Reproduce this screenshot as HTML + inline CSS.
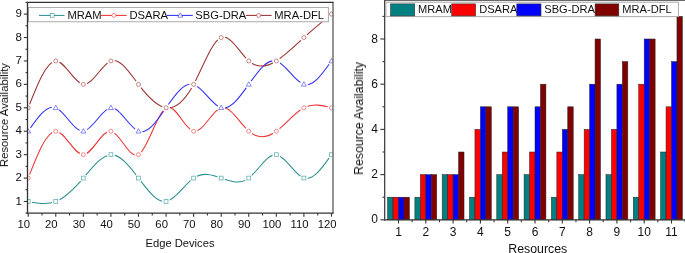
<!DOCTYPE html>
<html><head><meta charset="utf-8"><style>
html,body{margin:0;padding:0;background:#fff;width:685px;height:253px;overflow:hidden}
svg{display:block}
text{will-change:transform}
</style></head><body>
<svg width="685" height="253" viewBox="0 0 685 253">
<defs><clipPath id="cl"><rect x="27.50" y="2.40" width="305.10" height="210.80"/></clipPath></defs>
<g clip-path="url(#cl)">
<path d="M28.20 201.50C37.39 203.32 46.58 205.13 55.77 201.50C64.96 197.87 74.15 188.79 83.34 178.07C92.53 167.36 101.72 155.01 110.91 154.65C120.10 154.29 129.29 165.91 138.48 178.07C147.67 190.24 156.86 202.96 166.05 201.50C175.24 200.04 184.43 184.39 193.62 178.07C202.81 171.76 212.00 174.76 221.19 178.07C230.38 181.39 239.57 185.00 248.76 178.07C257.95 171.15 267.14 153.69 276.33 154.65C285.52 155.61 294.71 175.00 303.90 178.07C313.09 181.15 322.28 167.90 331.47 154.65" fill="none" stroke="#2a9090" stroke-width="1.05"/>
<circle cx="28.20" cy="201.50" r="3.9" fill="#fff"/><rect x="26.30" y="199.60" width="3.8" height="3.8" fill="#fff" stroke="#2a9090" stroke-width="0.75" stroke-opacity="0.75"/>
<circle cx="55.77" cy="201.50" r="3.9" fill="#fff"/><rect x="53.87" y="199.60" width="3.8" height="3.8" fill="#fff" stroke="#2a9090" stroke-width="0.75" stroke-opacity="0.75"/>
<circle cx="83.34" cy="178.07" r="3.9" fill="#fff"/><rect x="81.44" y="176.17" width="3.8" height="3.8" fill="#fff" stroke="#2a9090" stroke-width="0.75" stroke-opacity="0.75"/>
<circle cx="110.91" cy="154.65" r="3.9" fill="#fff"/><rect x="109.01" y="152.75" width="3.8" height="3.8" fill="#fff" stroke="#2a9090" stroke-width="0.75" stroke-opacity="0.75"/>
<circle cx="138.48" cy="178.07" r="3.9" fill="#fff"/><rect x="136.58" y="176.17" width="3.8" height="3.8" fill="#fff" stroke="#2a9090" stroke-width="0.75" stroke-opacity="0.75"/>
<circle cx="166.05" cy="201.50" r="3.9" fill="#fff"/><rect x="164.15" y="199.60" width="3.8" height="3.8" fill="#fff" stroke="#2a9090" stroke-width="0.75" stroke-opacity="0.75"/>
<circle cx="193.62" cy="178.07" r="3.9" fill="#fff"/><rect x="191.72" y="176.17" width="3.8" height="3.8" fill="#fff" stroke="#2a9090" stroke-width="0.75" stroke-opacity="0.75"/>
<circle cx="221.19" cy="178.07" r="3.9" fill="#fff"/><rect x="219.29" y="176.17" width="3.8" height="3.8" fill="#fff" stroke="#2a9090" stroke-width="0.75" stroke-opacity="0.75"/>
<circle cx="248.76" cy="178.07" r="3.9" fill="#fff"/><rect x="246.86" y="176.17" width="3.8" height="3.8" fill="#fff" stroke="#2a9090" stroke-width="0.75" stroke-opacity="0.75"/>
<circle cx="276.33" cy="154.65" r="3.9" fill="#fff"/><rect x="274.43" y="152.75" width="3.8" height="3.8" fill="#fff" stroke="#2a9090" stroke-width="0.75" stroke-opacity="0.75"/>
<circle cx="303.90" cy="178.07" r="3.9" fill="#fff"/><rect x="302.00" y="176.17" width="3.8" height="3.8" fill="#fff" stroke="#2a9090" stroke-width="0.75" stroke-opacity="0.75"/>
<circle cx="331.47" cy="154.65" r="3.9" fill="#fff"/><rect x="329.57" y="152.75" width="3.8" height="3.8" fill="#fff" stroke="#2a9090" stroke-width="0.75" stroke-opacity="0.75"/>
<path d="M28.20 178.07C37.39 154.60 46.58 131.12 55.77 131.22C64.96 131.33 74.15 155.00 83.34 154.65C92.53 154.30 101.72 129.91 110.91 131.22C120.10 132.54 129.29 159.56 138.48 154.65C147.67 149.74 156.86 112.91 166.05 107.80C175.24 102.69 184.43 129.32 193.62 131.22C202.81 133.13 212.00 110.32 221.19 107.80C230.38 105.28 239.57 123.06 248.76 131.22C257.95 139.39 267.14 137.93 276.33 131.22C285.52 124.52 294.71 112.58 303.90 107.80C313.09 103.02 322.28 105.41 331.47 107.80" fill="none" stroke="#ee3333" stroke-width="1.05"/>
<circle cx="28.20" cy="178.07" r="3.9" fill="#fff"/><circle cx="28.20" cy="178.07" r="2.0" fill="#fff" stroke="#ee3333" stroke-width="0.75" stroke-opacity="0.75"/>
<circle cx="55.77" cy="131.22" r="3.9" fill="#fff"/><circle cx="55.77" cy="131.22" r="2.0" fill="#fff" stroke="#ee3333" stroke-width="0.75" stroke-opacity="0.75"/>
<circle cx="83.34" cy="154.65" r="3.9" fill="#fff"/><circle cx="83.34" cy="154.65" r="2.0" fill="#fff" stroke="#ee3333" stroke-width="0.75" stroke-opacity="0.75"/>
<circle cx="110.91" cy="131.22" r="3.9" fill="#fff"/><circle cx="110.91" cy="131.22" r="2.0" fill="#fff" stroke="#ee3333" stroke-width="0.75" stroke-opacity="0.75"/>
<circle cx="138.48" cy="154.65" r="3.9" fill="#fff"/><circle cx="138.48" cy="154.65" r="2.0" fill="#fff" stroke="#ee3333" stroke-width="0.75" stroke-opacity="0.75"/>
<circle cx="166.05" cy="107.80" r="3.9" fill="#fff"/><circle cx="166.05" cy="107.80" r="2.0" fill="#fff" stroke="#ee3333" stroke-width="0.75" stroke-opacity="0.75"/>
<circle cx="193.62" cy="131.22" r="3.9" fill="#fff"/><circle cx="193.62" cy="131.22" r="2.0" fill="#fff" stroke="#ee3333" stroke-width="0.75" stroke-opacity="0.75"/>
<circle cx="221.19" cy="107.80" r="3.9" fill="#fff"/><circle cx="221.19" cy="107.80" r="2.0" fill="#fff" stroke="#ee3333" stroke-width="0.75" stroke-opacity="0.75"/>
<circle cx="248.76" cy="131.22" r="3.9" fill="#fff"/><circle cx="248.76" cy="131.22" r="2.0" fill="#fff" stroke="#ee3333" stroke-width="0.75" stroke-opacity="0.75"/>
<circle cx="276.33" cy="131.22" r="3.9" fill="#fff"/><circle cx="276.33" cy="131.22" r="2.0" fill="#fff" stroke="#ee3333" stroke-width="0.75" stroke-opacity="0.75"/>
<circle cx="303.90" cy="107.80" r="3.9" fill="#fff"/><circle cx="303.90" cy="107.80" r="2.0" fill="#fff" stroke="#ee3333" stroke-width="0.75" stroke-opacity="0.75"/>
<circle cx="331.47" cy="107.80" r="3.9" fill="#fff"/><circle cx="331.47" cy="107.80" r="2.0" fill="#fff" stroke="#ee3333" stroke-width="0.75" stroke-opacity="0.75"/>
<path d="M28.20 131.22C37.39 117.74 46.58 104.25 55.77 107.80C64.96 111.35 74.15 131.94 83.34 131.22C92.53 130.51 101.72 108.49 110.91 107.80C120.10 107.11 129.29 127.74 138.48 131.22C147.67 134.71 156.86 121.05 166.05 107.80C175.24 94.55 184.43 81.71 193.62 84.38C202.81 87.04 212.00 105.21 221.19 107.80C230.38 110.39 239.57 97.38 248.76 84.38C257.95 71.37 267.14 58.35 276.33 60.95C285.52 63.55 294.71 81.77 303.90 84.38C313.09 86.98 322.28 73.96 331.47 60.95" fill="none" stroke="#2e2ef5" stroke-width="1.05"/>
<circle cx="28.20" cy="131.22" r="3.9" fill="#fff"/><path d="M28.20 128.62L30.70 133.03L25.70 133.03Z" fill="#fff" stroke="#2e2ef5" stroke-width="0.75" stroke-opacity="0.75"/>
<circle cx="55.77" cy="107.80" r="3.9" fill="#fff"/><path d="M55.77 105.20L58.27 109.60L53.27 109.60Z" fill="#fff" stroke="#2e2ef5" stroke-width="0.75" stroke-opacity="0.75"/>
<circle cx="83.34" cy="131.22" r="3.9" fill="#fff"/><path d="M83.34 128.62L85.84 133.03L80.84 133.03Z" fill="#fff" stroke="#2e2ef5" stroke-width="0.75" stroke-opacity="0.75"/>
<circle cx="110.91" cy="107.80" r="3.9" fill="#fff"/><path d="M110.91 105.20L113.41 109.60L108.41 109.60Z" fill="#fff" stroke="#2e2ef5" stroke-width="0.75" stroke-opacity="0.75"/>
<circle cx="138.48" cy="131.22" r="3.9" fill="#fff"/><path d="M138.48 128.62L140.98 133.03L135.98 133.03Z" fill="#fff" stroke="#2e2ef5" stroke-width="0.75" stroke-opacity="0.75"/>
<circle cx="166.05" cy="107.80" r="3.9" fill="#fff"/><path d="M166.05 105.20L168.55 109.60L163.55 109.60Z" fill="#fff" stroke="#2e2ef5" stroke-width="0.75" stroke-opacity="0.75"/>
<circle cx="193.62" cy="84.38" r="3.9" fill="#fff"/><path d="M193.62 81.78L196.12 86.17L191.12 86.17Z" fill="#fff" stroke="#2e2ef5" stroke-width="0.75" stroke-opacity="0.75"/>
<circle cx="221.19" cy="107.80" r="3.9" fill="#fff"/><path d="M221.19 105.20L223.69 109.60L218.69 109.60Z" fill="#fff" stroke="#2e2ef5" stroke-width="0.75" stroke-opacity="0.75"/>
<circle cx="248.76" cy="84.38" r="3.9" fill="#fff"/><path d="M248.76 81.78L251.26 86.17L246.26 86.17Z" fill="#fff" stroke="#2e2ef5" stroke-width="0.75" stroke-opacity="0.75"/>
<circle cx="276.33" cy="60.95" r="3.9" fill="#fff"/><path d="M276.33 58.35L278.83 62.75L273.83 62.75Z" fill="#fff" stroke="#2e2ef5" stroke-width="0.75" stroke-opacity="0.75"/>
<circle cx="303.90" cy="84.38" r="3.9" fill="#fff"/><path d="M303.90 81.78L306.40 86.17L301.40 86.17Z" fill="#fff" stroke="#2e2ef5" stroke-width="0.75" stroke-opacity="0.75"/>
<circle cx="331.47" cy="60.95" r="3.9" fill="#fff"/><path d="M331.47 58.35L333.97 62.75L328.97 62.75Z" fill="#fff" stroke="#2e2ef5" stroke-width="0.75" stroke-opacity="0.75"/>
<path d="M28.20 107.80C37.39 84.50 46.58 61.20 55.77 60.95C64.96 60.70 74.15 83.49 83.34 84.38C92.53 85.26 101.72 64.23 110.91 60.95C120.10 57.67 129.29 72.14 138.48 84.38C147.67 96.61 156.86 106.62 166.05 107.80C175.24 108.98 184.43 101.32 193.62 84.38C202.81 67.43 212.00 41.20 221.19 37.52C230.38 33.85 239.57 52.72 248.76 60.95C257.95 69.18 267.14 66.77 276.33 60.95C285.52 55.13 294.71 45.90 303.90 37.52C313.09 29.15 322.28 21.62 331.47 14.10" fill="none" stroke="#9a3030" stroke-width="1.05"/>
<circle cx="28.20" cy="107.80" r="3.9" fill="#fff"/><circle cx="28.20" cy="107.80" r="2.0" fill="#fff" stroke="#9a3030" stroke-width="0.75" stroke-opacity="0.75"/>
<circle cx="55.77" cy="60.95" r="3.9" fill="#fff"/><circle cx="55.77" cy="60.95" r="2.0" fill="#fff" stroke="#9a3030" stroke-width="0.75" stroke-opacity="0.75"/>
<circle cx="83.34" cy="84.38" r="3.9" fill="#fff"/><circle cx="83.34" cy="84.38" r="2.0" fill="#fff" stroke="#9a3030" stroke-width="0.75" stroke-opacity="0.75"/>
<circle cx="110.91" cy="60.95" r="3.9" fill="#fff"/><circle cx="110.91" cy="60.95" r="2.0" fill="#fff" stroke="#9a3030" stroke-width="0.75" stroke-opacity="0.75"/>
<circle cx="138.48" cy="84.38" r="3.9" fill="#fff"/><circle cx="138.48" cy="84.38" r="2.0" fill="#fff" stroke="#9a3030" stroke-width="0.75" stroke-opacity="0.75"/>
<circle cx="166.05" cy="107.80" r="3.9" fill="#fff"/><circle cx="166.05" cy="107.80" r="2.0" fill="#fff" stroke="#9a3030" stroke-width="0.75" stroke-opacity="0.75"/>
<circle cx="193.62" cy="84.38" r="3.9" fill="#fff"/><circle cx="193.62" cy="84.38" r="2.0" fill="#fff" stroke="#9a3030" stroke-width="0.75" stroke-opacity="0.75"/>
<circle cx="221.19" cy="37.52" r="3.9" fill="#fff"/><circle cx="221.19" cy="37.52" r="2.0" fill="#fff" stroke="#9a3030" stroke-width="0.75" stroke-opacity="0.75"/>
<circle cx="248.76" cy="60.95" r="3.9" fill="#fff"/><circle cx="248.76" cy="60.95" r="2.0" fill="#fff" stroke="#9a3030" stroke-width="0.75" stroke-opacity="0.75"/>
<circle cx="276.33" cy="60.95" r="3.9" fill="#fff"/><circle cx="276.33" cy="60.95" r="2.0" fill="#fff" stroke="#9a3030" stroke-width="0.75" stroke-opacity="0.75"/>
<circle cx="303.90" cy="37.52" r="3.9" fill="#fff"/><circle cx="303.90" cy="37.52" r="2.0" fill="#fff" stroke="#9a3030" stroke-width="0.75" stroke-opacity="0.75"/>
<circle cx="331.47" cy="14.10" r="3.9" fill="#fff"/><circle cx="331.47" cy="14.10" r="2.0" fill="#fff" stroke="#9a3030" stroke-width="0.75" stroke-opacity="0.75"/>
</g>
<rect x="28.5" y="7.45" width="299.9" height="14.3" fill="#fff" stroke="#aaa" stroke-width="1"/>
<line x1="39.0" y1="15.4" x2="64.5" y2="15.4" stroke="#2a9090" stroke-width="1.05"/>
<rect x="50.30" y="13.50" width="3.8" height="3.8" fill="#fff" stroke="#2a9090" stroke-width="0.75" stroke-opacity="0.75"/>
<text x="67.4" y="19.1" font-size="11.2" font-family="Liberation Sans, sans-serif" fill="#111">MRAM</text>
<line x1="100.8" y1="15.4" x2="126.6" y2="15.4" stroke="#ee3333" stroke-width="1.05"/>
<circle cx="113.90" cy="15.40" r="2.0" fill="#fff" stroke="#ee3333" stroke-width="0.75" stroke-opacity="0.75"/>
<text x="129.4" y="19.1" font-size="11.2" font-family="Liberation Sans, sans-serif" fill="#111">DSARA</text>
<line x1="167.0" y1="15.4" x2="192.8" y2="15.4" stroke="#2e2ef5" stroke-width="1.05"/>
<path d="M180.30 12.80L182.80 17.20L177.80 17.20Z" fill="#fff" stroke="#2e2ef5" stroke-width="0.75" stroke-opacity="0.75"/>
<text x="195.3" y="19.1" font-size="11.2" font-family="Liberation Sans, sans-serif" fill="#111">SBG-DRA</text>
<line x1="245.9" y1="15.4" x2="271.6" y2="15.4" stroke="#9a3030" stroke-width="1.05"/>
<circle cx="258.70" cy="15.40" r="2.0" fill="#fff" stroke="#9a3030" stroke-width="0.75" stroke-opacity="0.75"/>
<text x="274.3" y="19.1" font-size="11.2" font-family="Liberation Sans, sans-serif" fill="#111">MRA-DFL</text>
<path d="M26.85 2.40H333.5" fill="none" stroke="#333" stroke-width="1.3"/>
<path d="M26.85 213.20H333.5" fill="none" stroke="#333" stroke-width="1.3"/>
<path d="M27.50 2.40V213.20" fill="none" stroke="#333" stroke-width="1.3"/>
<path d="M333 1.80V213.80" fill="none" stroke="#444" stroke-width="1.15"/>
<line x1="23.80" y1="201.50" x2="27.50" y2="201.50" stroke="#333" stroke-width="1.1"/>
<text x="22" y="204.50" font-size="11.5" font-family="Liberation Sans, sans-serif" fill="#111" text-anchor="end">1</text>
<line x1="23.80" y1="178.07" x2="27.50" y2="178.07" stroke="#333" stroke-width="1.1"/>
<text x="22" y="181.07" font-size="11.5" font-family="Liberation Sans, sans-serif" fill="#111" text-anchor="end">2</text>
<line x1="23.80" y1="154.65" x2="27.50" y2="154.65" stroke="#333" stroke-width="1.1"/>
<text x="22" y="157.65" font-size="11.5" font-family="Liberation Sans, sans-serif" fill="#111" text-anchor="end">3</text>
<line x1="23.80" y1="131.22" x2="27.50" y2="131.22" stroke="#333" stroke-width="1.1"/>
<text x="22" y="134.22" font-size="11.5" font-family="Liberation Sans, sans-serif" fill="#111" text-anchor="end">4</text>
<line x1="23.80" y1="107.80" x2="27.50" y2="107.80" stroke="#333" stroke-width="1.1"/>
<text x="22" y="110.80" font-size="11.5" font-family="Liberation Sans, sans-serif" fill="#111" text-anchor="end">5</text>
<line x1="23.80" y1="84.38" x2="27.50" y2="84.38" stroke="#333" stroke-width="1.1"/>
<text x="22" y="87.38" font-size="11.5" font-family="Liberation Sans, sans-serif" fill="#111" text-anchor="end">6</text>
<line x1="23.80" y1="60.95" x2="27.50" y2="60.95" stroke="#333" stroke-width="1.1"/>
<text x="22" y="63.95" font-size="11.5" font-family="Liberation Sans, sans-serif" fill="#111" text-anchor="end">7</text>
<line x1="23.80" y1="37.52" x2="27.50" y2="37.52" stroke="#333" stroke-width="1.1"/>
<text x="22" y="40.52" font-size="11.5" font-family="Liberation Sans, sans-serif" fill="#111" text-anchor="end">8</text>
<line x1="23.80" y1="14.10" x2="27.50" y2="14.10" stroke="#333" stroke-width="1.1"/>
<text x="22" y="17.10" font-size="11.5" font-family="Liberation Sans, sans-serif" fill="#111" text-anchor="end">9</text>
<line x1="25.50" y1="213.21" x2="27.50" y2="213.21" stroke="#333" stroke-width="1.1"/>
<line x1="25.50" y1="189.79" x2="27.50" y2="189.79" stroke="#333" stroke-width="1.1"/>
<line x1="25.50" y1="166.36" x2="27.50" y2="166.36" stroke="#333" stroke-width="1.1"/>
<line x1="25.50" y1="142.94" x2="27.50" y2="142.94" stroke="#333" stroke-width="1.1"/>
<line x1="25.50" y1="119.51" x2="27.50" y2="119.51" stroke="#333" stroke-width="1.1"/>
<line x1="25.50" y1="96.09" x2="27.50" y2="96.09" stroke="#333" stroke-width="1.1"/>
<line x1="25.50" y1="72.66" x2="27.50" y2="72.66" stroke="#333" stroke-width="1.1"/>
<line x1="25.50" y1="49.24" x2="27.50" y2="49.24" stroke="#333" stroke-width="1.1"/>
<line x1="25.50" y1="25.81" x2="27.50" y2="25.81" stroke="#333" stroke-width="1.1"/>
<line x1="25.50" y1="2.39" x2="27.50" y2="2.39" stroke="#333" stroke-width="1.1"/>
<line x1="28.20" y1="213.20" x2="28.20" y2="216.70" stroke="#333" stroke-width="1.1"/>
<text x="23.80" y="228.2" font-size="11.3" font-family="Liberation Sans, sans-serif" fill="#111" text-anchor="middle">10</text>
<line x1="55.77" y1="213.20" x2="55.77" y2="216.70" stroke="#333" stroke-width="1.1"/>
<text x="51.37" y="228.2" font-size="11.3" font-family="Liberation Sans, sans-serif" fill="#111" text-anchor="middle">20</text>
<line x1="83.34" y1="213.20" x2="83.34" y2="216.70" stroke="#333" stroke-width="1.1"/>
<text x="78.94" y="228.2" font-size="11.3" font-family="Liberation Sans, sans-serif" fill="#111" text-anchor="middle">30</text>
<line x1="110.91" y1="213.20" x2="110.91" y2="216.70" stroke="#333" stroke-width="1.1"/>
<text x="106.51" y="228.2" font-size="11.3" font-family="Liberation Sans, sans-serif" fill="#111" text-anchor="middle">40</text>
<line x1="138.48" y1="213.20" x2="138.48" y2="216.70" stroke="#333" stroke-width="1.1"/>
<text x="134.08" y="228.2" font-size="11.3" font-family="Liberation Sans, sans-serif" fill="#111" text-anchor="middle">50</text>
<line x1="166.05" y1="213.20" x2="166.05" y2="216.70" stroke="#333" stroke-width="1.1"/>
<text x="161.65" y="228.2" font-size="11.3" font-family="Liberation Sans, sans-serif" fill="#111" text-anchor="middle">60</text>
<line x1="193.62" y1="213.20" x2="193.62" y2="216.70" stroke="#333" stroke-width="1.1"/>
<text x="189.22" y="228.2" font-size="11.3" font-family="Liberation Sans, sans-serif" fill="#111" text-anchor="middle">70</text>
<line x1="221.19" y1="213.20" x2="221.19" y2="216.70" stroke="#333" stroke-width="1.1"/>
<text x="216.79" y="228.2" font-size="11.3" font-family="Liberation Sans, sans-serif" fill="#111" text-anchor="middle">80</text>
<line x1="248.76" y1="213.20" x2="248.76" y2="216.70" stroke="#333" stroke-width="1.1"/>
<text x="244.36" y="228.2" font-size="11.3" font-family="Liberation Sans, sans-serif" fill="#111" text-anchor="middle">90</text>
<line x1="276.33" y1="213.20" x2="276.33" y2="216.70" stroke="#333" stroke-width="1.1"/>
<text x="271.93" y="228.2" font-size="11.3" font-family="Liberation Sans, sans-serif" fill="#111" text-anchor="middle">100</text>
<line x1="303.90" y1="213.20" x2="303.90" y2="216.70" stroke="#333" stroke-width="1.1"/>
<text x="299.50" y="228.2" font-size="11.3" font-family="Liberation Sans, sans-serif" fill="#111" text-anchor="middle">110</text>
<line x1="331.47" y1="213.20" x2="331.47" y2="216.70" stroke="#333" stroke-width="1.1"/>
<text x="327.07" y="228.2" font-size="11.3" font-family="Liberation Sans, sans-serif" fill="#111" text-anchor="middle">120</text>
<line x1="41.98" y1="213.20" x2="41.98" y2="215.50" stroke="#333" stroke-width="1.1"/>
<line x1="69.56" y1="213.20" x2="69.56" y2="215.50" stroke="#333" stroke-width="1.1"/>
<line x1="97.12" y1="213.20" x2="97.12" y2="215.50" stroke="#333" stroke-width="1.1"/>
<line x1="124.70" y1="213.20" x2="124.70" y2="215.50" stroke="#333" stroke-width="1.1"/>
<line x1="152.27" y1="213.20" x2="152.27" y2="215.50" stroke="#333" stroke-width="1.1"/>
<line x1="179.84" y1="213.20" x2="179.84" y2="215.50" stroke="#333" stroke-width="1.1"/>
<line x1="207.41" y1="213.20" x2="207.41" y2="215.50" stroke="#333" stroke-width="1.1"/>
<line x1="234.97" y1="213.20" x2="234.97" y2="215.50" stroke="#333" stroke-width="1.1"/>
<line x1="262.55" y1="213.20" x2="262.55" y2="215.50" stroke="#333" stroke-width="1.1"/>
<line x1="290.12" y1="213.20" x2="290.12" y2="215.50" stroke="#333" stroke-width="1.1"/>
<line x1="317.69" y1="213.20" x2="317.69" y2="215.50" stroke="#333" stroke-width="1.1"/>
<text x="180" y="247" font-size="11.2" font-family="Liberation Sans, sans-serif" fill="#111" text-anchor="middle">Edge Devices</text>
<text transform="translate(8.0,115.1) rotate(-90)" font-size="11.3" font-family="Liberation Sans, sans-serif" fill="#111" text-anchor="middle">Resource Availability</text>
<rect x="387.58" y="197.20" width="5.46" height="22.60" fill="#008080" stroke="#222" stroke-width="0.5"/>
<rect x="393.04" y="197.20" width="5.46" height="22.60" fill="#ff0000" stroke="#222" stroke-width="0.5"/>
<rect x="398.50" y="197.20" width="5.46" height="22.60" fill="#0000ff" stroke="#222" stroke-width="0.5"/>
<rect x="403.96" y="197.20" width="5.46" height="22.60" fill="#800000" stroke="#222" stroke-width="0.5"/>
<rect x="414.88" y="197.20" width="5.46" height="22.60" fill="#008080" stroke="#222" stroke-width="0.5"/>
<rect x="420.34" y="174.60" width="5.46" height="45.20" fill="#ff0000" stroke="#222" stroke-width="0.5"/>
<rect x="425.80" y="174.60" width="5.46" height="45.20" fill="#0000ff" stroke="#222" stroke-width="0.5"/>
<rect x="431.26" y="174.60" width="5.46" height="45.20" fill="#800000" stroke="#222" stroke-width="0.5"/>
<rect x="442.18" y="174.60" width="5.46" height="45.20" fill="#008080" stroke="#222" stroke-width="0.5"/>
<rect x="447.64" y="174.60" width="5.46" height="45.20" fill="#ff0000" stroke="#222" stroke-width="0.5"/>
<rect x="453.10" y="174.60" width="5.46" height="45.20" fill="#0000ff" stroke="#222" stroke-width="0.5"/>
<rect x="458.56" y="152.00" width="5.46" height="67.80" fill="#800000" stroke="#222" stroke-width="0.5"/>
<rect x="469.48" y="197.20" width="5.46" height="22.60" fill="#008080" stroke="#222" stroke-width="0.5"/>
<rect x="474.94" y="129.40" width="5.46" height="90.40" fill="#ff0000" stroke="#222" stroke-width="0.5"/>
<rect x="480.40" y="106.80" width="5.46" height="113.00" fill="#0000ff" stroke="#222" stroke-width="0.5"/>
<rect x="485.86" y="106.80" width="5.46" height="113.00" fill="#800000" stroke="#222" stroke-width="0.5"/>
<rect x="496.78" y="174.60" width="5.46" height="45.20" fill="#008080" stroke="#222" stroke-width="0.5"/>
<rect x="502.24" y="152.00" width="5.46" height="67.80" fill="#ff0000" stroke="#222" stroke-width="0.5"/>
<rect x="507.70" y="106.80" width="5.46" height="113.00" fill="#0000ff" stroke="#222" stroke-width="0.5"/>
<rect x="513.16" y="106.80" width="5.46" height="113.00" fill="#800000" stroke="#222" stroke-width="0.5"/>
<rect x="524.08" y="174.60" width="5.46" height="45.20" fill="#008080" stroke="#222" stroke-width="0.5"/>
<rect x="529.54" y="152.00" width="5.46" height="67.80" fill="#ff0000" stroke="#222" stroke-width="0.5"/>
<rect x="535.00" y="106.80" width="5.46" height="113.00" fill="#0000ff" stroke="#222" stroke-width="0.5"/>
<rect x="540.46" y="84.20" width="5.46" height="135.60" fill="#800000" stroke="#222" stroke-width="0.5"/>
<rect x="551.38" y="197.20" width="5.46" height="22.60" fill="#008080" stroke="#222" stroke-width="0.5"/>
<rect x="556.84" y="152.00" width="5.46" height="67.80" fill="#ff0000" stroke="#222" stroke-width="0.5"/>
<rect x="562.30" y="129.40" width="5.46" height="90.40" fill="#0000ff" stroke="#222" stroke-width="0.5"/>
<rect x="567.76" y="106.80" width="5.46" height="113.00" fill="#800000" stroke="#222" stroke-width="0.5"/>
<rect x="578.68" y="174.60" width="5.46" height="45.20" fill="#008080" stroke="#222" stroke-width="0.5"/>
<rect x="584.14" y="129.40" width="5.46" height="90.40" fill="#ff0000" stroke="#222" stroke-width="0.5"/>
<rect x="589.60" y="84.20" width="5.46" height="135.60" fill="#0000ff" stroke="#222" stroke-width="0.5"/>
<rect x="595.06" y="39.00" width="5.46" height="180.80" fill="#800000" stroke="#222" stroke-width="0.5"/>
<rect x="605.98" y="174.60" width="5.46" height="45.20" fill="#008080" stroke="#222" stroke-width="0.5"/>
<rect x="611.44" y="129.40" width="5.46" height="90.40" fill="#ff0000" stroke="#222" stroke-width="0.5"/>
<rect x="616.90" y="84.20" width="5.46" height="135.60" fill="#0000ff" stroke="#222" stroke-width="0.5"/>
<rect x="622.36" y="61.60" width="5.46" height="158.20" fill="#800000" stroke="#222" stroke-width="0.5"/>
<rect x="633.28" y="197.20" width="5.46" height="22.60" fill="#008080" stroke="#222" stroke-width="0.5"/>
<rect x="638.74" y="84.20" width="5.46" height="135.60" fill="#ff0000" stroke="#222" stroke-width="0.5"/>
<rect x="644.20" y="39.00" width="5.46" height="180.80" fill="#0000ff" stroke="#222" stroke-width="0.5"/>
<rect x="649.66" y="39.00" width="5.46" height="180.80" fill="#800000" stroke="#222" stroke-width="0.5"/>
<rect x="660.58" y="152.00" width="5.46" height="67.80" fill="#008080" stroke="#222" stroke-width="0.5"/>
<rect x="666.04" y="106.80" width="5.46" height="113.00" fill="#ff0000" stroke="#222" stroke-width="0.5"/>
<rect x="671.50" y="61.60" width="5.46" height="158.20" fill="#0000ff" stroke="#222" stroke-width="0.5"/>
<rect x="676.96" y="16.40" width="5.46" height="203.40" fill="#800000" stroke="#222" stroke-width="0.5"/>
<line x1="384.70" y1="0" x2="384.70" y2="220.40" stroke="#333" stroke-width="1.2"/>
<line x1="384.10" y1="219.80" x2="686" y2="219.80" stroke="#333" stroke-width="1.3"/>
<line x1="384.70" y1="0.3" x2="686" y2="0.3" stroke="#444" stroke-width="1"/>
<line x1="380.40" y1="219.80" x2="384.70" y2="219.80" stroke="#333" stroke-width="1.1"/>
<text x="378" y="223.30" font-size="12" font-family="Liberation Sans, sans-serif" fill="#111" text-anchor="end">0</text>
<line x1="382.50" y1="197.20" x2="384.70" y2="197.20" stroke="#333" stroke-width="1.1"/>
<line x1="380.40" y1="174.60" x2="384.70" y2="174.60" stroke="#333" stroke-width="1.1"/>
<text x="378" y="178.10" font-size="12" font-family="Liberation Sans, sans-serif" fill="#111" text-anchor="end">2</text>
<line x1="382.50" y1="152.00" x2="384.70" y2="152.00" stroke="#333" stroke-width="1.1"/>
<line x1="380.40" y1="129.40" x2="384.70" y2="129.40" stroke="#333" stroke-width="1.1"/>
<text x="378" y="132.90" font-size="12" font-family="Liberation Sans, sans-serif" fill="#111" text-anchor="end">4</text>
<line x1="382.50" y1="106.80" x2="384.70" y2="106.80" stroke="#333" stroke-width="1.1"/>
<line x1="380.40" y1="84.20" x2="384.70" y2="84.20" stroke="#333" stroke-width="1.1"/>
<text x="378" y="87.70" font-size="12" font-family="Liberation Sans, sans-serif" fill="#111" text-anchor="end">6</text>
<line x1="382.50" y1="61.60" x2="384.70" y2="61.60" stroke="#333" stroke-width="1.1"/>
<line x1="380.40" y1="39.00" x2="384.70" y2="39.00" stroke="#333" stroke-width="1.1"/>
<text x="378" y="42.50" font-size="12" font-family="Liberation Sans, sans-serif" fill="#111" text-anchor="end">8</text>
<line x1="382.50" y1="16.40" x2="384.70" y2="16.40" stroke="#333" stroke-width="1.1"/>
<line x1="398.50" y1="219.80" x2="398.50" y2="223.50" stroke="#333" stroke-width="1.1"/>
<text x="398.50" y="235.6" font-size="12" font-family="Liberation Sans, sans-serif" fill="#111" text-anchor="middle">1</text>
<line x1="412.15" y1="219.80" x2="412.15" y2="222.20" stroke="#333" stroke-width="1.1"/>
<line x1="425.80" y1="219.80" x2="425.80" y2="223.50" stroke="#333" stroke-width="1.1"/>
<text x="425.80" y="235.6" font-size="12" font-family="Liberation Sans, sans-serif" fill="#111" text-anchor="middle">2</text>
<line x1="439.45" y1="219.80" x2="439.45" y2="222.20" stroke="#333" stroke-width="1.1"/>
<line x1="453.10" y1="219.80" x2="453.10" y2="223.50" stroke="#333" stroke-width="1.1"/>
<text x="453.10" y="235.6" font-size="12" font-family="Liberation Sans, sans-serif" fill="#111" text-anchor="middle">3</text>
<line x1="466.75" y1="219.80" x2="466.75" y2="222.20" stroke="#333" stroke-width="1.1"/>
<line x1="480.40" y1="219.80" x2="480.40" y2="223.50" stroke="#333" stroke-width="1.1"/>
<text x="480.40" y="235.6" font-size="12" font-family="Liberation Sans, sans-serif" fill="#111" text-anchor="middle">4</text>
<line x1="494.05" y1="219.80" x2="494.05" y2="222.20" stroke="#333" stroke-width="1.1"/>
<line x1="507.70" y1="219.80" x2="507.70" y2="223.50" stroke="#333" stroke-width="1.1"/>
<text x="507.70" y="235.6" font-size="12" font-family="Liberation Sans, sans-serif" fill="#111" text-anchor="middle">5</text>
<line x1="521.35" y1="219.80" x2="521.35" y2="222.20" stroke="#333" stroke-width="1.1"/>
<line x1="535.00" y1="219.80" x2="535.00" y2="223.50" stroke="#333" stroke-width="1.1"/>
<text x="535.00" y="235.6" font-size="12" font-family="Liberation Sans, sans-serif" fill="#111" text-anchor="middle">6</text>
<line x1="548.65" y1="219.80" x2="548.65" y2="222.20" stroke="#333" stroke-width="1.1"/>
<line x1="562.30" y1="219.80" x2="562.30" y2="223.50" stroke="#333" stroke-width="1.1"/>
<text x="562.30" y="235.6" font-size="12" font-family="Liberation Sans, sans-serif" fill="#111" text-anchor="middle">7</text>
<line x1="575.95" y1="219.80" x2="575.95" y2="222.20" stroke="#333" stroke-width="1.1"/>
<line x1="589.60" y1="219.80" x2="589.60" y2="223.50" stroke="#333" stroke-width="1.1"/>
<text x="589.60" y="235.6" font-size="12" font-family="Liberation Sans, sans-serif" fill="#111" text-anchor="middle">8</text>
<line x1="603.25" y1="219.80" x2="603.25" y2="222.20" stroke="#333" stroke-width="1.1"/>
<line x1="616.90" y1="219.80" x2="616.90" y2="223.50" stroke="#333" stroke-width="1.1"/>
<text x="616.90" y="235.6" font-size="12" font-family="Liberation Sans, sans-serif" fill="#111" text-anchor="middle">9</text>
<line x1="630.55" y1="219.80" x2="630.55" y2="222.20" stroke="#333" stroke-width="1.1"/>
<line x1="644.20" y1="219.80" x2="644.20" y2="223.50" stroke="#333" stroke-width="1.1"/>
<text x="644.20" y="235.6" font-size="12" font-family="Liberation Sans, sans-serif" fill="#111" text-anchor="middle">10</text>
<line x1="657.85" y1="219.80" x2="657.85" y2="222.20" stroke="#333" stroke-width="1.1"/>
<line x1="671.50" y1="219.80" x2="671.50" y2="223.50" stroke="#333" stroke-width="1.1"/>
<text x="671.50" y="235.6" font-size="12" font-family="Liberation Sans, sans-serif" fill="#111" text-anchor="middle">11</text>
<line x1="685.15" y1="219.80" x2="685.15" y2="222.20" stroke="#333" stroke-width="1.1"/>
<text x="537.8" y="252.9" font-size="12.35" font-family="Liberation Sans, sans-serif" fill="#111" text-anchor="middle">Resources</text>
<text transform="translate(363,118.4) rotate(-90)" font-size="12.25" font-family="Liberation Sans, sans-serif" fill="#111" text-anchor="middle">Resource Availability</text>
<rect x="385.9" y="2.2" width="292.5" height="14.4" fill="#fff" stroke="#aaa" stroke-width="1"/>
<rect x="390.6" y="3.9" width="24.1" height="12" fill="#008080" stroke="#333" stroke-width="0.6"/>
<text x="418.0" y="13.45" font-size="11.1" font-family="Liberation Sans, sans-serif" fill="#111">MRAM</text>
<rect x="451.7" y="3.9" width="23.9" height="12" fill="#ff0000" stroke="#333" stroke-width="0.6"/>
<text x="479.2" y="13.45" font-size="11.1" font-family="Liberation Sans, sans-serif" fill="#111">DSARA</text>
<rect x="516.8" y="3.9" width="24.2" height="12" fill="#0000ff" stroke="#333" stroke-width="0.6"/>
<text x="544.3" y="13.45" font-size="11.1" font-family="Liberation Sans, sans-serif" fill="#111">SBG-DRA</text>
<rect x="595.1" y="3.9" width="23.7" height="12" fill="#800000" stroke="#333" stroke-width="0.6"/>
<text x="622.3" y="13.45" font-size="11.1" font-family="Liberation Sans, sans-serif" fill="#111">MRA-DFL</text>
</svg>
</body></html>
